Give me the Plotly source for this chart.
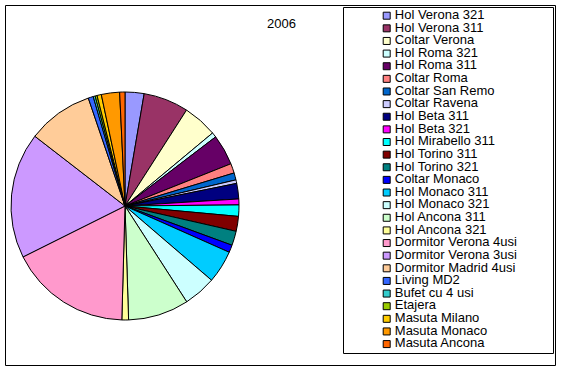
import plotly.graph_objects as go

W, H = 562, 372

categories = [
    "Hol Verona 321", "Hol Verona 311", "Coltar Verona", "Hol Roma 321", "Hol Roma 311",
    "Coltar Roma", "Coltar San Remo", "Coltar Ravena", "Hol Beta 311", "Hol Beta 321",
    "Hol Mirabello 311", "Hol Torino 311", "Hol Torino 321", "Coltar Monaco",
    "Hol Monaco 311", "Hol Monaco 321", "Hol Ancona 311", "Hol Ancona 321",
    "Dormitor Verona 4usi", "Dormitor Verona 3usi", "Dormitor Madrid 4usi",
    "Living MD2", "Bufet cu 4 usi", "Etajera", "Masuta Milano", "Masuta Monaco", "Masuta Ancona",
]
values = [
    9.7, 23.0, 17.5, 2.5, 15.6,
    4.9, 3.6, 1.8, 7.9, 3.0,
    5.8, 7.6, 7.3, 3.8,
    16.7, 16.6, 31.0, 3.4,
    61.9, 64.3, 33.5,
    2.6, 1.0, 1.0, 2.2, 9.3, 2.7,
]
colors = [
    "#9999FF", "#993366", "#FFFFCC", "#CCFFFF", "#660066",
    "#FF8080", "#0066CC", "#CCCCFF", "#000080", "#FF00FF",
    "#00FFFF", "#800000", "#008080", "#0000FF",
    "#00CCFF", "#CCFFFF", "#CCFFCC", "#FFFF99",
    "#FF99CC", "#CC99FF", "#FFCC99",
    "#3366FF", "#33CCCC", "#99CC00", "#FFCC00", "#FF9900", "#FF6600",
]
title_text = "2006"


def px(x):
    return x / W


def py(y):
    return 1 - y / H


fig = go.Figure()

# Pie
cx, cy, r = 125, 206, 114
fig.add_trace(go.Pie(
    labels=categories, values=values, sort=False, direction="clockwise", rotation=0,
    marker=dict(colors=colors, line=dict(color="black", width=1)),
    textinfo="none", showlegend=False,
    domain=dict(x=[px(cx - r), px(cx + r)], y=[py(cy + r), py(cy - r)]),
))

# Custom legend (matching Excel layout)
lg_left, lg_right, lg_top, lg_bottom = 343, 553, 7, 353
first_y, step = 15.7, 12.63
idx = list(range(len(categories)))
y_top = (lg_top - first_y) / step
y_bot = (lg_bottom - first_y) / step
marker_x = 386.7 - lg_left
text_x = 394.8 - lg_left

fig.add_trace(go.Scatter(
    x=[marker_x] * len(categories), y=idx, mode="markers",
    marker=dict(symbol="square", size=7, color=colors, line=dict(color="black", width=1)),
    xaxis="x2", yaxis="y2", showlegend=False, hoverinfo="skip",
))
fig.add_trace(go.Scatter(
    x=[text_x] * len(categories), y=idx, mode="text", text=categories,
    textposition="middle right",
    textfont=dict(family="Liberation Sans, Arial", size=13, color="black"),
    xaxis="x2", yaxis="y2", showlegend=False, hoverinfo="skip",
))

fig.update_layout(
    width=W, height=H,
    margin=dict(l=0, r=0, t=0, b=0),
    paper_bgcolor="white", plot_bgcolor="rgba(0,0,0,0)",
    showlegend=False,
    xaxis2=dict(domain=[px(lg_left), px(lg_right)], range=[0, lg_right - lg_left],
                visible=False, fixedrange=True, anchor="y2"),
    yaxis2=dict(domain=[py(lg_bottom), py(lg_top)], range=[y_bot, y_top],
                visible=False, fixedrange=True, anchor="x2"),
    shapes=[
        dict(type="rect", xref="paper", yref="paper",
             x0=px(5.5), x1=px(555.5), y0=py(365.5), y1=py(5.5),
             line=dict(color="black", width=1), fillcolor="rgba(0,0,0,0)"),
        dict(type="rect", xref="paper", yref="paper",
             x0=px(lg_left + 0.5), x1=px(lg_right + 0.5), y0=py(lg_bottom + 0.5), y1=py(lg_top + 0.5),
             line=dict(color="black", width=1), fillcolor="rgba(0,0,0,0)"),
    ],
    annotations=[
        dict(text=title_text, xref="paper", yref="paper", x=px(281), y=py(24),
             xanchor="center", yanchor="middle", showarrow=False,
             font=dict(family="Liberation Sans, Arial", size=13, color="black")),
    ],
)

fig.write_html("out.html", config={"displayModeBar": False},
               post_script="document.body.style.margin='0px';")
